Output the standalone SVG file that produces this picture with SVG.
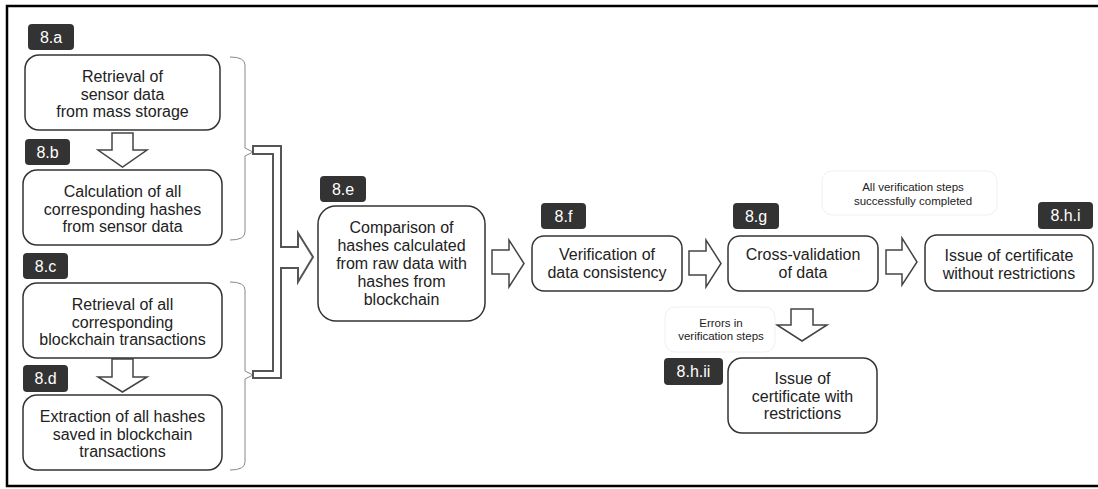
<svg xmlns="http://www.w3.org/2000/svg" width="1098" height="489" viewBox="0 0 1098 489">
<style>
.box{fill:#fff;stroke:#333;stroke-width:1.5}
.lbl{fill:#333;stroke:none}
.lt{font-family:"Liberation Sans",Arial,sans-serif;font-size:16px;fill:#fff;text-anchor:middle}
.t{font-family:"Liberation Sans",Arial,sans-serif;font-size:16px;fill:#222;text-anchor:middle}
.s{font-family:"Liberation Sans",Arial,sans-serif;font-size:11.5px;fill:#222;text-anchor:middle}
.arr{fill:#fff;stroke:#444;stroke-width:1.5;stroke-linejoin:miter}
.br{fill:none;stroke:#888;stroke-width:1}
.pipe{fill:#fff;stroke:#555;stroke-width:2;stroke-linejoin:miter}
.note{fill:#fff;stroke:#f0f0f0;stroke-width:1}
</style>
<rect x="7" y="6" width="1100" height="480" fill="#fff" stroke="#000" stroke-width="2.5"/>

<g id="connectors">
  <path class="br" d="M230,57 Q245,57 245,65 L245,148 L253,152 L245,156 L245,232 Q245,240 230,240"/>
  <path class="br" d="M230,282 Q245,282 245,290 L245,371 L253,375 L245,379 L245,462 Q245,470 230,470"/>
  <polygon class="pipe" points="253,146 281,146 281,247 298,247 298,233 313,257 298,282 298,268 281,268 281,378 253,378 253,371 273,371 273,154 253,154"/>
  <polygon class="arr" points="112,133 133,133 133,150 147,150 122.5,167 98,150 112,150"/>
  <polygon class="arr" points="112,359 133,359 133,377 147,377 122.5,392 98,377 112,377"/>
  <polygon class="arr" points="492,250 509,250 509,240 524,263.5 509,287 509,274 492,274"/>
  <polygon class="arr" points="689,251 706,251 706,240 721,263.5 706,287 706,275 689,275"/>
  <polygon class="arr" points="886,250 902,250 902,238 917,262 902,285 902,274 886,274"/>
  <polygon class="arr" points="791,309 813,309 813,325 827,325 802,341 777,325 791,325"/>
  <rect class="note" x="822" y="171" width="175" height="44" rx="10"/>
  <text class="s" x="913" y="191" font-size="12">All verification steps</text>
  <text class="s" x="913" y="205" font-size="12">successfully completed</text>
  <rect class="note" x="665" y="307" width="110" height="45" rx="10"/>
  <text class="s" x="721" y="327">Errors in</text>
  <text class="s" x="721" y="340">verification steps</text>
</g>

<g id="node-8a">
  <rect class="lbl" x="28" y="24" width="46" height="26" rx="4"/>
  <text class="lt" x="51" y="43">8.a</text>
  <rect class="box" x="25" y="55" width="195" height="75" rx="14"/>
  <text class="t" x="122.5" y="82">Retrieval of</text>
  <text class="t" x="122.5" y="99.5">sensor data</text>
  <text class="t" x="122.5" y="117">from mass storage</text>
</g>

<g id="node-8b">
  <rect class="lbl" x="25" y="139" width="45" height="26" rx="4"/>
  <text class="lt" x="47.5" y="158">8.b</text>
  <rect class="box" x="23" y="170" width="199" height="75" rx="14"/>
  <text class="t" x="122.5" y="197">Calculation of all</text>
  <text class="t" x="122.5" y="214.5">corresponding hashes</text>
  <text class="t" x="122.5" y="232">from sensor data</text>
</g>

<g id="node-8c">
  <rect class="lbl" x="23" y="253" width="45" height="26" rx="4"/>
  <text class="lt" x="45.5" y="272">8.c</text>
  <rect class="box" x="23" y="283" width="199" height="75" rx="14"/>
  <text class="t" x="122.5" y="310">Retrieval of all</text>
  <text class="t" x="122.5" y="327.5">corresponding</text>
  <text class="t" x="122.5" y="345">blockchain transactions</text>
</g>

<g id="node-8d">
  <rect class="lbl" x="23" y="365" width="45" height="27" rx="4"/>
  <text class="lt" x="45.5" y="384">8.d</text>
  <rect class="box" x="23" y="395" width="199" height="75" rx="14"/>
  <text class="t" x="122.5" y="422">Extraction of all hashes</text>
  <text class="t" x="122.5" y="439.5">saved in blockchain</text>
  <text class="t" x="122.5" y="457">transactions</text>
</g>

<g id="node-8e">
  <rect class="lbl" x="320" y="176" width="46" height="26" rx="4"/>
  <text class="lt" x="343" y="195">8.e</text>
  <rect class="box" x="318" y="206" width="167" height="115" rx="18"/>
  <text class="t" x="401.5" y="233">Comparison of</text>
  <text class="t" x="401.5" y="251">hashes calculated</text>
  <text class="t" x="401.5" y="269">from raw data with</text>
  <text class="t" x="401.5" y="287">hashes from</text>
  <text class="t" x="401.5" y="305">blockchain</text>
</g>

<g id="node-8f">
  <rect class="lbl" x="541" y="203" width="45" height="26" rx="4"/>
  <text class="lt" x="563.5" y="222">8.f</text>
  <rect class="box" x="532" y="236" width="150" height="55" rx="12"/>
  <text class="t" x="607" y="260">Verification of</text>
  <text class="t" x="607" y="278">data consistency</text>
</g>

<g id="node-8g">
  <rect class="lbl" x="733" y="203" width="46" height="26" rx="4"/>
  <text class="lt" x="756" y="222">8.g</text>
  <rect class="box" x="728" y="236" width="150" height="55" rx="12"/>
  <text class="t" x="803" y="260">Cross-validation</text>
  <text class="t" x="803" y="278">of data</text>
</g>

<g id="node-8hi">
  <rect class="lbl" x="1038" y="202" width="55" height="27" rx="4"/>
  <text class="lt" x="1065.5" y="221">8.h.i</text>
  <rect class="box" x="925" y="235" width="168" height="56" rx="12"/>
  <text class="t" x="1009" y="261">Issue of certificate</text>
  <text class="t" x="1009" y="279">without restrictions</text>
</g>

<g id="node-8hii">
  <rect class="lbl" x="664" y="358" width="59" height="27" rx="4"/>
  <text class="lt" x="693.5" y="377">8.h.ii</text>
  <rect class="box" x="728" y="358" width="149" height="75" rx="14"/>
  <text class="t" x="802.5" y="384">Issue of</text>
  <text class="t" x="802.5" y="402">certificate with</text>
  <text class="t" x="802.5" y="419">restrictions</text>
</g>
</svg>
